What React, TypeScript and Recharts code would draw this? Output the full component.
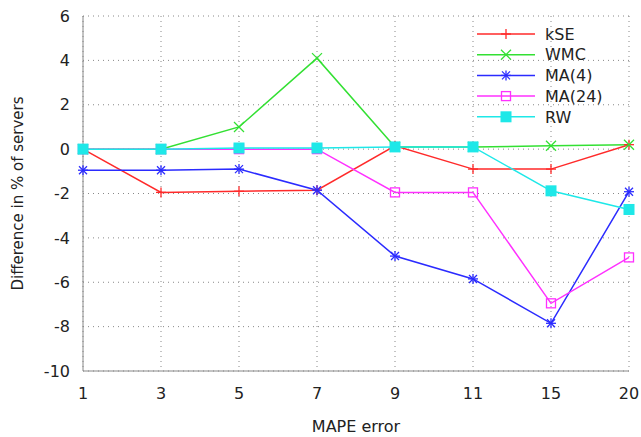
import React from 'react';
import { LineChart, Line, XAxis, YAxis, CartesianGrid } from 'recharts';

const categories = ['1', '3', '5', '7', '9', '11', '15', '20'];
const kSE = [0, -1.95, -1.9, -1.85, 0.15, -0.9, -0.9, 0.2];
const WMC = [0, 0, 1.0, 4.1, 0.1, 0.1, 0.15, 0.2];
const MA4 = [-0.95, -0.95, -0.9, -1.85, -4.82, -5.85, -7.85, -1.92];
const MA24 = [0, 0, 0, 0, -1.95, -1.95, -6.95, -4.88];
const RW = [0, 0, 0.05, 0.05, 0.1, 0.1, -1.88, -2.72];
const yTicks = [-10, -8, -6, -4, -2, 0, 2, 4, 6];

const data = categories.map((c, i) => ({
  x: c,
  kSE: kSE[i],
  WMC: WMC[i],
  MA4: MA4[i],
  MA24: MA24[i],
  RW: RW[i],
}));

type Marker = 'plus' | 'cross' | 'star' | 'openSquare' | 'square';

const series: { key: string; name: string; color: string; marker: Marker }[] = [
  { key: 'kSE', name: 'kSE', color: '#ff2a2a', marker: 'plus' },
  { key: 'WMC', name: 'WMC', color: '#33e033', marker: 'cross' },
  { key: 'MA4', name: 'MA(4)', color: '#2b2bff', marker: 'star' },
  { key: 'MA24', name: 'MA(24)', color: '#ff30ff', marker: 'openSquare' },
  { key: 'RW', name: 'RW', color: '#1ee8e8', marker: 'square' },
];

function markerShape(m: Marker, cx: number, cy: number, color: string) {
  const r = 5;
  switch (m) {
    case 'plus':
      return (
        <g stroke={color} strokeWidth={1.3}>
          <line x1={cx} y1={cy - r} x2={cx} y2={cy + r} />
          <line x1={cx - r} y1={cy} x2={cx + r} y2={cy} />
        </g>
      );
    case 'cross':
      return (
        <g stroke={color} strokeWidth={1.3}>
          <line x1={cx - r} y1={cy - r} x2={cx + r} y2={cy + r} />
          <line x1={cx - r} y1={cy + r} x2={cx + r} y2={cy - r} />
        </g>
      );
    case 'star':
      return (
        <g stroke={color} strokeWidth={1.3}>
          <line x1={cx} y1={cy - r} x2={cx} y2={cy + r} />
          <line x1={cx - r} y1={cy} x2={cx + r} y2={cy} />
          <line x1={cx - 4} y1={cy - 4} x2={cx + 4} y2={cy + 4} />
          <line x1={cx - 4} y1={cy + 4} x2={cx + 4} y2={cy - 4} />
        </g>
      );
    case 'openSquare':
      return <rect x={cx - 4.5} y={cy - 4.5} width={9} height={9} fill="none" stroke={color} strokeWidth={1.3} />;
    default:
      return <rect x={cx - 5.5} y={cy - 5.5} width={11} height={11} fill={color} />;
  }
}

function makeDot(m: Marker, color: string) {
  return (props: any) => {
    const { cx, cy, index } = props;
    return <g key={`d-${m}-${index}`}>{markerShape(m, cx, cy, color)}</g>;
  };
}

function LegendBox() {
  return (
    <svg width={150} height={110} style={{ position: 'absolute', left: 477, top: 24 }}>
      {series.map((s, i) => {
        const y = 10 + i * 20.7;
        return (
          <g key={s.key}>
            <line x1={0} y1={y} x2={58} y2={y} stroke={s.color} strokeWidth={1.5} />
            {markerShape(s.marker, 29, y, s.color)}
            <text x={68} y={y} dy="0.36em" fontSize={16} fill="#222" fontFamily="DejaVu Sans">
              {s.name}
            </text>
          </g>
        );
      })}
    </svg>
  );
}

export default function App() {
  return (
    <div style={{ position: 'absolute', left: 0, top: 0, width: 641, height: 437, background: '#fff' }}>
      <LineChart
        width={641}
        height={437}
        data={data}
        margin={{ top: 16, right: 12, left: 0, bottom: 0 }}
        style={{ fontFamily: 'DejaVu Sans' }}
      >
        <CartesianGrid stroke="#888" strokeDasharray="1 4" />
        <XAxis
          dataKey="x"
          height={66}
          stroke="#888"
          tickLine={false}
          tickSize={0}
          tickMargin={17}
          tick={{ fontSize: 16, fill: '#222' }}
          label={{ value: 'MAPE error', position: 'insideBottom', offset: 5, fontSize: 16, fill: '#222' }}
        />
        <YAxis
          type="number"
          domain={[-10, 6]}
          ticks={yTicks}
          width={83}
          stroke="#888"
          tickLine={false}
          tickSize={0}
          tickMargin={13}
          tick={{ fontSize: 16, fill: '#222' }}
          label={{
            value: 'Difference in % of servers',
            angle: -90,
            position: 'insideLeft',
            offset: 18,
            fontSize: 15,
            fill: '#222',
            style: { textAnchor: 'middle' },
          }}
        />
        {series.map((s) => (
          <Line
            key={s.key}
            dataKey={s.key}
            name={s.name}
            stroke={s.color}
            strokeWidth={1.5}
            type="linear"
            dot={makeDot(s.marker, s.color)}
            activeDot={false}
            isAnimationActive={false}
          />
        ))}
      </LineChart>
      <LegendBox />
    </div>
  );
}
